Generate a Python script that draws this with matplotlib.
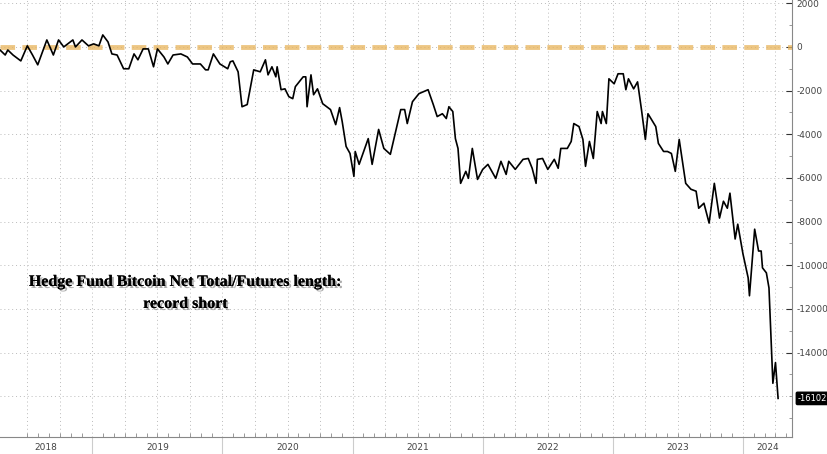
import numpy as np
import matplotlib.pyplot as plt
import matplotlib.patheffects as pe

# decimal year, net position (contracts)
years = [2018.29, 2018.33, 2018.35, 2018.39, 2018.45, 2018.50, 2018.54, 2018.58, 2018.65, 2018.70,
         2018.74, 2018.78, 2018.85, 2018.87, 2018.92, 2018.97, 2019.01, 2019.05, 2019.08, 2019.12,
         2019.15, 2019.19, 2019.24, 2019.28, 2019.32, 2019.35, 2019.39, 2019.43, 2019.47, 2019.50,
         2019.55, 2019.58, 2019.62, 2019.68, 2019.73, 2019.77, 2019.83, 2019.87, 2019.89, 2019.93,
         2019.98, 2020.04, 2020.06, 2020.08, 2020.12, 2020.15, 2020.19, 2020.24, 2020.29, 2020.33,
         2020.35, 2020.38, 2020.41, 2020.42, 2020.45, 2020.48, 2020.51, 2020.54, 2020.56, 2020.62,
         2020.64, 2020.65, 2020.68, 2020.70, 2020.73, 2020.77, 2020.83, 2020.87, 2020.90, 2020.92,
         2020.95, 2020.98, 2021.01, 2021.02, 2021.05, 2021.12, 2021.15, 2021.20, 2021.24, 2021.29,
         2021.37, 2021.40, 2021.42, 2021.46, 2021.51, 2021.58, 2021.62, 2021.65, 2021.69, 2021.72,
         2021.74, 2021.77, 2021.79, 2021.81, 2021.83, 2021.87, 2021.89, 2021.92, 2021.96, 2022.00,
         2022.04, 2022.10, 2022.14, 2022.18, 2022.20, 2022.25, 2022.31, 2022.35, 2022.38, 2022.41,
         2022.42, 2022.46, 2022.50, 2022.55, 2022.58, 2022.60, 2022.65, 2022.68, 2022.70, 2022.74,
         2022.77, 2022.79, 2022.82, 2022.85, 2022.88, 2022.91, 2022.92, 2022.95, 2022.97, 2023.01,
         2023.04, 2023.08, 2023.10, 2023.12, 2023.16, 2023.19, 2023.22, 2023.25, 2023.27, 2023.33,
         2023.35, 2023.39, 2023.42, 2023.45, 2023.48, 2023.51, 2023.56, 2023.60, 2023.64, 2023.66,
         2023.70, 2023.74, 2023.78, 2023.82, 2023.85, 2023.88, 2023.90, 2023.94, 2023.96, 2024.00,
         2024.04, 2024.05, 2024.09, 2024.12, 2024.14, 2024.15, 2024.18, 2024.20, 2024.23, 2024.25,
         2024.27]
net = [-140, -370, -140, -370, -640, 50, -370, -820, 320, -370,
       320, 0, 320, 0, 320, 50, 140, 50, 550, 230,
       -320, -370, -1000, -1000, -320, -590, -90, -90, -910, -90,
       -460, -780, -370, -320, -460, -780, -780, -1050, -1050, -320,
       -780, -1000, -680, -640, -1140, -2740, -2640, -1050, -1140, -590,
       -1280, -910, -1370, -910, -1960, -1920, -2280, -2370, -1820, -1370,
       -1370, -2740, -1280, -2190, -1920, -2600, -2870, -3560, -2780, -3420,
       -4560, -4880, -5930, -4790, -5380, -4200, -5380, -3780, -4650, -4920,
       -2870, -2870, -3510, -2510, -2140, -1960, -2640, -3190, -3060, -3280,
       -2740, -2960, -4200, -4650, -6250, -5700, -6020, -4650, -6070, -5610,
       -5380, -6020, -5240, -5840, -5240, -5610, -5150, -5110, -5560, -6250,
       -5150, -5110, -5610, -5150, -5560, -4650, -4650, -4330, -3510, -3650,
       -4240, -5470, -4330, -5110, -2960, -3510, -2960, -3510, -1460, -1690,
       -1230, -1230, -1960, -1460, -1920, -1600, -2870, -4240, -3060, -3650,
       -4420, -4790, -4790, -4880, -5700, -4240, -6250, -6520, -6610, -7390,
       -7160, -8070, -6250, -7840, -7070, -7390, -6700, -8800, -8120, -9480,
       -10580, -11400, -8350, -9350, -9350, -10120, -10350, -11040, -15410, -14460,
       -16102]

year_labels = ['2018', '2019', '2020', '2021', '2022', '2023', '2024']
y_ticks = [2000, 0, -2000, -4000, -6000, -8000, -10000, -12000, -14000]

fig = plt.figure(figsize=(8.28, 4.54), dpi=100)
ax = fig.add_axes([0, 0.037, 0.957, 0.963])

xmin, xmax = 2018.29, 2024.38
ax.set_xlim(xmin, xmax)
ax.set_ylim(-17880, 2150)

ax.axhline(0, color='#e8b35a', lw=3.5, ls=(0, (3, 1.5)), alpha=0.75, zorder=2)
ax.plot(years, net, color='black', lw=1.2, zorder=3)

# grid
quarters = np.arange(2018.5, 2024.4, 0.25)
for q in quarters:
    ax.axvline(q, color='#bbbbbb', lw=0.7, ls=(0, (1, 3)), zorder=1)
for t in y_ticks + [-16000]:
    ax.axhline(t, color='#bbbbbb', lw=0.7, ls=(0, (1, 3)), zorder=1)

for s in ['top', 'left']:
    ax.spines[s].set_visible(False)
ax.spines['right'].set_color('#888888')
ax.spines['bottom'].set_color('#888888')

ax.yaxis.tick_right()
ax.set_yticks(y_ticks)
ax.set_yticklabels([str(t) for t in y_ticks], fontsize=6.5, color='#444444')
ax.set_yticks(np.arange(-17000, 2001, 1000), minor=True)
ax.tick_params(axis='y', which='major', direction='in', length=4, color='#333333', pad=3)
ax.tick_params(axis='y', which='minor', direction='in', length=2, color='#888888')

ax.set_xticks([2019, 2020, 2021, 2022, 2023, 2024])
ax.set_xticklabels([])
ax.set_xticks(np.arange(2018.5, 2024.4, 1 / 12), minor=True)
ax.tick_params(axis='x', which='major', direction='out', length=14, color='#cccccc')
ax.tick_params(axis='x', which='minor', direction='in', length=3, color='#888888')

starts = [xmin, 2019, 2020, 2021, 2022, 2023, 2024]
ends = [2019, 2020, 2021, 2022, 2023, 2024, xmax]
for lab, a, b in zip(year_labels, starts, ends):
    ax.text((a + b) / 2, -0.023, lab, transform=ax.get_xaxis_transform(),
            ha='center', va='center', fontsize=6.5, color='#444444')

# last value tag
ax.annotate(f'{net[-1]}', xy=(1.0, net[-1]), xycoords=('axes fraction', 'data'),
            xytext=(4, 0), textcoords='offset points', ha='left', va='center',
            fontsize=6, color='white',
            bbox=dict(boxstyle='round,pad=0.2,rounding_size=0.15', fc='black', ec='black'))

shadow = [pe.withSimplePatchShadow(offset=(1.5, -1.5), shadow_rgbFace='#777777', alpha=0.6), pe.Normal()]
ax.text(0.234, 0.33, 'Hedge Fund Bitcoin Net Total/Futures length:\nrecord short',
        transform=ax.transAxes, ha='center', va='center', fontsize=11.5, fontweight='bold',
        family='Liberation Serif', linespacing=1.5, path_effects=shadow)

fig.savefig('out.png', dpi=100)
